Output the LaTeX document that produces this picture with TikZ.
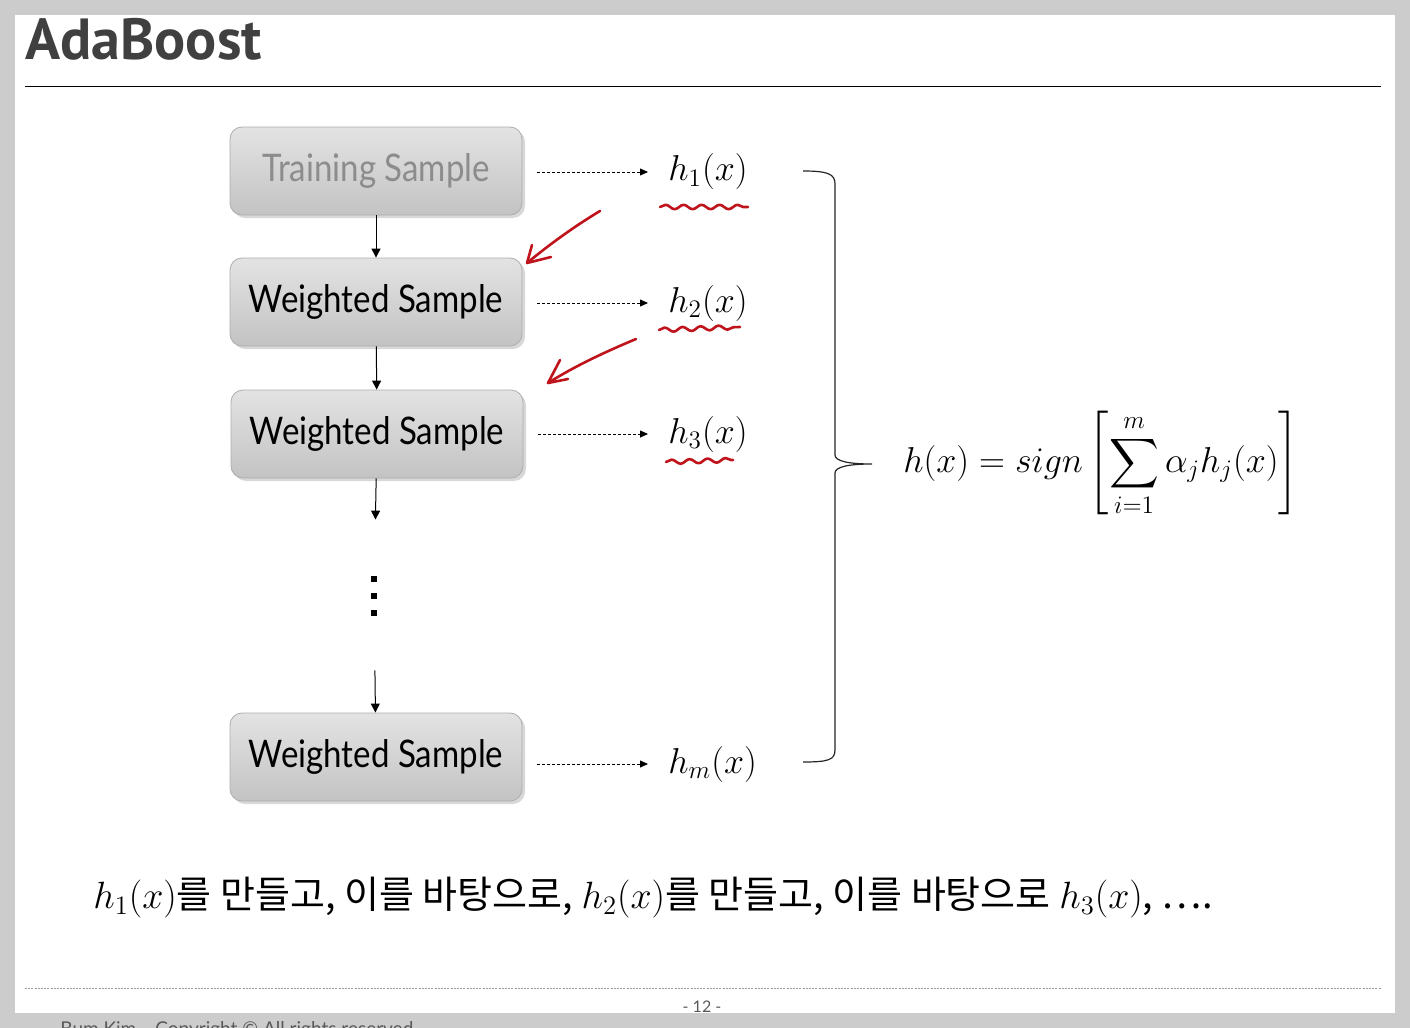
\RequirePackage{fix-cm}
\documentclass[tikz,border=0pt]{standalone}
\usepackage{amsmath}
\usepackage{exscale}
\usepackage{fontspec}
\setmainfont{Lato}
\newfontfamily\boxfont[FakeStretch=0.87]{Lato}
\newfontfamily\titlefont{PT Sans}
\newfontfamily\krfont{Noto Sans CJK KR}
\usetikzlibrary{arrows.meta,positioning,shadows,decorations.pathmorphing}
\definecolor{pagegray}{HTML}{CCCCCC}
\definecolor{titleink}{HTML}{404040}
\definecolor{boxtop}{HTML}{E3E3E3}
\definecolor{boxbot}{HTML}{C3C3C3}
\definecolor{boxline}{HTML}{ADADAD}
\definecolor{fadedink}{HTML}{8C8C8C}
\definecolor{penred}{HTML}{C0141C}
\definecolor{footink}{HTML}{595959}
\tikzset{
  sbox/.style   = {rectangle, rounded corners=6pt, draw=boxline, line width=0.4pt,
                   top color=boxtop, bottom color=boxbot, minimum width=146pt, minimum height=44pt,
                   font=\boxfont\fontsize{19}{22}\selectfont, inner sep=0pt,
                   drop shadow={opacity=0.3, shadow xshift=1.5pt, shadow yshift=-1.5pt}},
  fadebox/.style= {sbox, text=fadedink},
  hyp/.style    = {anchor=west, inner sep=0pt, font=\fontsize{18}{21}\selectfont},
  fl/.style     = {-{Triangle[length=4.5pt, width=4.5pt]}, line width=0.5pt},
  dl/.style     = {-{Triangle[length=4pt, width=3.5pt]}, line width=0.4pt, dash pattern=on 1.5pt off 1pt},
  redpen/.style = {draw=penred, line width=1.3pt, line cap=round, line join=round},
  wave/.style   = {redpen, decorate, decoration={snake, amplitude=1.1pt, segment length=9pt}},
  brc/.style    = {line width=0.6pt, draw=black!85},
}
\begin{document}
\begin{tikzpicture}[x=0.5pt, y=-0.5pt]
\useasboundingbox (0,0) rectangle (1410,1028);
\clip (0,0) rectangle (1410,1028);
% slide page
\fill[pagegray] (0,0) rectangle (1410,1028);
\fill[white] (15,15) rectangle (1395,1013);
\node[anchor=base west, inner sep=0pt, text=titleink, font=\titlefont\bfseries\fontsize{29}{32}\selectfont] (title) at (25,60) {AdaBoost};
\draw[line width=0.5pt] (25,86) -- (1381,86);
% samples
\node[fadebox] (s1) at (376,171) {Training Sample};
\node[sbox] (s2) at (376,302) {Weighted Sample};
\node[sbox] (s3) at (377,434) {Weighted Sample};
\node[inner sep=0pt, minimum width=3pt, minimum height=20pt] (dots) at (374,596) {};
\node[sbox] (sm) at (376,757) {Weighted Sample};
\foreach \d in {-17,0,17}
  \fill ([yshift=\d*0.5pt]dots.center) ++(-3,-3) rectangle ++(6,6);
\draw[fl] (s1) -- (s2);
\draw[fl] (s2) -- (s3);
\draw[fl, shorten >=28pt] (s3) -- (dots);
\draw[fl, shorten <=27pt] (dots) -- (sm);
% hypotheses
\node[hyp] (h1) at (668,172) {$h_1(x)$};
\node[hyp] (h2) at (668,303) {$h_2(x)$};
\node[hyp] (h3) at (668,434) {$h_3(x)$};
\node[hyp] (hm) at (668,764) {$h_m(x)$};
\foreach \s/\h in {s1/h1, s2/h2, s3/h3, sm/hm}
  \draw[dl, shorten <=7.5pt, shorten >=10pt] (\s.east |- \h.west) -- (\h.west);
% pen marks
\draw[wave] (660,207) -- (748,207);
\draw[wave] (659,330) -- (740,327);
\draw[wave] (666,462) -- (733,460);
\draw[redpen] (600,211) .. controls (575,226) and (550,244) .. (527,263);
\draw[redpen] (532,245) -- (527,263) -- (551,257);
\draw[redpen] (636,339) .. controls (605,352) and (575,366) .. (548,383);
\draw[redpen] (560,360) -- (548,383) -- (568,379);
% brace and combined classifier
\coordinate (btop) at (803,171);
\coordinate (bbot) at (803,762);
\coordinate (btip) at (872,464);
\draw[brc] (btop) .. controls (828,171) and (835,174) .. (835,184) -- (835,455)
  .. controls (835,461) and (848,464) .. (btip)
  .. controls (848,464) and (835,467) .. (835,473) -- (835,750)
  .. controls (835,760) and (828,762) .. (bbot);
\node[anchor=west, inner sep=0pt, font=\fontsize{18}{21}\selectfont] (hx) at (903,464)
  {$\displaystyle h(x) = sign\left[\sum_{i=1}^{m}\alpha_j h_j(x)\right]$};
% remark
\node[anchor=west, inner sep=0pt, font=\krfont\fontsize{19}{23}\selectfont] (note) at (93,898)
  {$h_1(x)$를 만들고, 이를 바탕으로, $h_2(x)$를 만들고, 이를 바탕으로 $h_3(x)$, …. };
% footer
\draw[line width=0.4pt, draw=black!40, dash pattern=on 1pt off 0.6pt] (25,988) -- (1381,988);
\node[font=\fontsize{8}{9}\selectfont, text=footink, inner sep=0pt] (pg) at (702,1007) {- 12 -};
\node[anchor=base west, inner sep=0pt, font=\fontsize{9.5}{11}\selectfont, text=footink] (copy) at (60,1035)
  {Bum Kim\quad Copyright © All rights reserved};
\end{tikzpicture}
\end{document}
